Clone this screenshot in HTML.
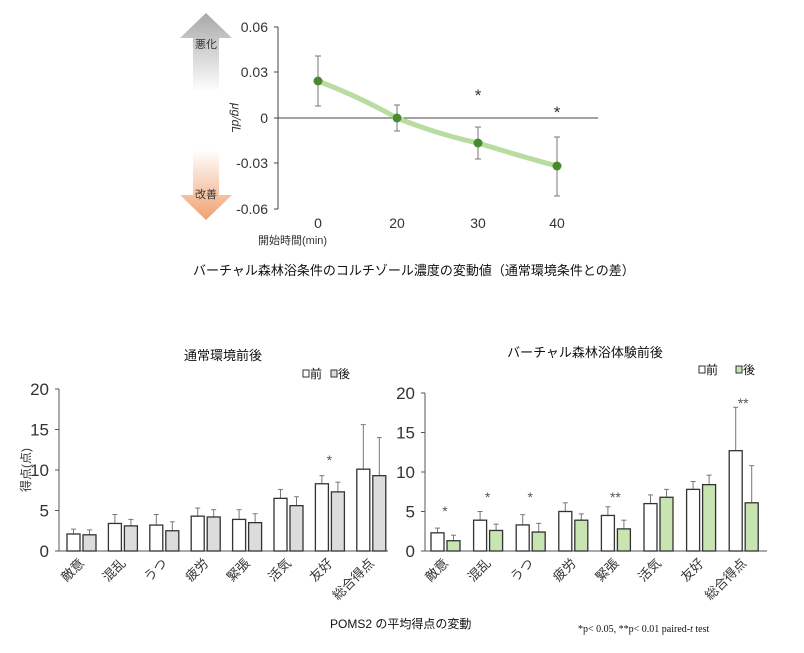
<!DOCTYPE html>
<html><head><meta charset="utf-8"><style>
html,body{margin:0;padding:0;background:#fff;}
svg{display:block;font-family:"Liberation Sans","Noto Sans CJK JP",sans-serif;}
</style></head><body>
<svg id="s" width="804" height="653" viewBox="0 0 804 653" xmlns="http://www.w3.org/2000/svg">
<defs>
<linearGradient id="gg" x1="0" y1="0" x2="0" y2="1"><stop offset="0" stop-color="#a8a8a8"/><stop offset="1" stop-color="#ffffff"/></linearGradient>
<linearGradient id="og" x1="0" y1="0" x2="0" y2="1"><stop offset="0" stop-color="#ffffff"/><stop offset="1" stop-color="#f0a070"/></linearGradient>
</defs>
<polygon points="206,13 232,38 219,38 219,92 193,92 193,38 180,38" fill="url(#gg)"/>
<text x="206" y="48" font-size="11" text-anchor="middle" fill="#333">悪化</text>
<polygon points="193,150 219,150 219,195 232,195 206,220 180,195 193,195" fill="url(#og)"/>
<text x="206" y="198" font-size="11" text-anchor="middle" fill="#333">改善</text>
<g stroke="#444" stroke-width="1">
<line x1="278" y1="27" x2="278" y2="209"/>
<line x1="274" y1="27" x2="278" y2="27"/><line x1="274" y1="72" x2="278" y2="72"/>
<line x1="274" y1="163" x2="278" y2="163"/><line x1="274" y1="209" x2="278" y2="209"/>
<line x1="274" y1="118" x2="598" y2="118"/>
</g>
<g font-size="14" fill="#333" text-anchor="end">
<text x="268" y="32">0.06</text><text x="268" y="77">0.03</text><text x="268" y="123">0</text>
<text x="268" y="168">-0.03</text><text x="268" y="214">-0.06</text>
</g>
<g font-size="14" fill="#333" text-anchor="middle">
<text x="318" y="228">0</text><text x="397" y="228">20</text><text x="478" y="228">30</text><text x="557" y="228">40</text>
</g>
<text x="258" y="244" font-size="11" fill="#333">開始時間(min)</text>
<text transform="translate(232,118) rotate(90)" font-size="12" font-style="italic" fill="#333" text-anchor="middle">μg/dL</text>
<g stroke="#777" stroke-width="1">
<line x1="318" y1="56" x2="318" y2="106"/><line x1="315" y1="56" x2="321" y2="56"/><line x1="315" y1="106" x2="321" y2="106"/>
<line x1="397" y1="105" x2="397" y2="131"/><line x1="394" y1="105" x2="400" y2="105"/><line x1="394" y1="131" x2="400" y2="131"/>
<line x1="478" y1="127" x2="478" y2="159"/><line x1="475" y1="127" x2="481" y2="127"/><line x1="475" y1="159" x2="481" y2="159"/>
<line x1="557" y1="137" x2="557" y2="196"/><line x1="554" y1="137" x2="560" y2="137"/><line x1="554" y1="196" x2="560" y2="196"/>
</g>
<path d="M318,81 Q360,97 397,118 Q440,135 478,143 Q520,156 557,166" stroke="#b9dca0" stroke-width="5" fill="none"/>
<g fill="#4a8a2e"><circle cx="318" cy="81" r="4.5"/><circle cx="397" cy="118" r="4.5"/><circle cx="478" cy="143" r="4.5"/><circle cx="557" cy="166" r="4.5"/></g>
<text x="478" y="101" font-size="17" text-anchor="middle" fill="#333">*</text>
<text x="557" y="118" font-size="17" text-anchor="middle" fill="#333">*</text>
<text x="193" y="275" font-size="13" fill="#111">バーチャル森林浴条件のコルチゾール濃度の変動値（通常環境条件との差）</text>

<text x="223" y="360" font-size="13" text-anchor="middle" fill="#111">通常環境前後</text>
<text x="585" y="357" font-size="13" text-anchor="middle" fill="#111">バーチャル森林浴体験前後</text>
<g font-size="12" fill="#111">
<rect x="303" y="370" width="6" height="7" fill="#fff" stroke="#333"/><text x="310" y="378">前</text>
<rect x="331" y="370" width="6" height="7" fill="#ddd" stroke="#333"/><text x="338" y="378">後</text>
<rect x="699" y="366" width="6" height="7" fill="#fff" stroke="#333"/><text x="706" y="374">前</text>
<rect x="736" y="366" width="6" height="7" fill="#c8e4b0" stroke="#333"/><text x="743" y="374">後</text>
</g>
<text transform="translate(30,470) rotate(-90)" font-size="12" text-anchor="middle" fill="#333">得点(点)</text>
<text x="330" y="628" font-size="12" fill="#111">POMS2 の平均得点の変動</text>
<text x="578" y="632" font-size="10" font-family="Liberation Serif,serif" fill="#111">*p&lt; 0.05, **p&lt; 0.01 paired-<tspan font-style="italic">t</tspan> test</text>
<g id="bars"></g>
</svg>
<script>
var ns="http://www.w3.org/2000/svg",g=document.getElementById("bars");
function el(t,a,txt){var e=document.createElementNS(ns,t);for(var k in a)e.setAttribute(k,a[k]);if(txt)e.textContent=txt;g.appendChild(e);return e;}
var cats=["敵意","混乱","うつ","疲労","緊張","活気","友好","総合得点"];
function chart(ax,x0,sp,sc,axEnd,pre,post,epre,epost,col,stars){
 var y=function(v){return 551-sc*v;};
 el("line",{x1:ax,y1:y(20),x2:ax,y2:551,stroke:"#555"});
 el("line",{x1:ax,y1:551,x2:axEnd,y2:551,stroke:"#555"});
 for(var t=0;t<=20;t+=5){el("line",{x1:ax-4,y1:y(t),x2:ax,y2:y(t),stroke:"#555"});
  el("text",{x:ax-10,y:y(t)+6,"font-size":17,"text-anchor":"end",fill:"#333"},""+t);}
 for(var i=0;i<8;i++){var bx=x0+i*sp;
  [[bx,pre[i],epre[i],"#fff"],[bx+16,post[i],epost[i],col]].forEach(function(b){
   el("line",{x1:b[0]+6.5,y1:y(b[2]),x2:b[0]+6.5,y2:y(b[1]),stroke:"#777"});
   el("line",{x1:b[0]+4,y1:y(b[2]),x2:b[0]+9,y2:y(b[2]),stroke:"#777"});
   el("rect",{x:b[0],y:y(b[1]),width:13,height:551-y(b[1]),fill:b[3],stroke:"#333","stroke-width":1.3});
  });
  var cx=bx+14;
  el("text",{transform:"translate("+(cx+4)+",564) rotate(-45)","font-size":13,"text-anchor":"end",fill:"#333"},cats[i]);
  if(stars[i])el("text",{x:cx,y:stars[i][1],"font-size":14,"text-anchor":"middle",fill:"#555"},stars[i][0]);
 }
}
chart(59,67,41.4,8.1,388,[2.1,3.4,3.2,4.3,3.9,6.5,8.3,10.1],[2.0,3.1,2.5,4.2,3.5,5.6,7.3,9.3],
 [2.7,4.5,4.5,5.3,5.1,7.6,9.3,15.6],[2.6,3.9,3.6,5.1,4.6,6.7,8.5,14.0],"#dcdcdc",[0,0,0,0,0,0,["*",465],0]);
chart(425,431,42.6,7.9,767,[2.3,3.9,3.3,5.0,4.5,6.0,7.8,12.7],[1.3,2.6,2.4,3.9,2.8,6.8,8.4,6.1],
 [2.9,5.0,4.6,6.1,5.6,7.1,8.8,18.2],[2.0,3.4,3.5,4.7,3.9,7.8,9.6,10.8],"#c8e4b0",[["*",516],["*",502],["*",502],0,["**",502],0,0,["**",408]]);
</script>
</body></html>
